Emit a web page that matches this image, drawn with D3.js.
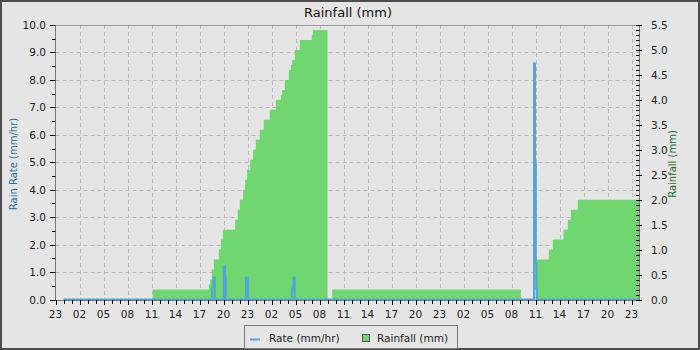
<!DOCTYPE html>
<html><head><meta charset="utf-8">
<script src="https://cdn.jsdelivr.net/npm/d3@7"></script>
<style>body{margin:0;background:#e5e5e5} svg{display:block}</style>
</head><body><svg id="c" width="700" height="350"></svg>
<script>
const chartTitle = "Rainfall (mm)";
const rateAxisLabel = "Rain Rate (mm/hr)";
const rainAxisLabel = "Rainfall (mm)";
const legendLabels = ["Rate (mm/hr)", "Rainfall (mm)"];
const domainStart = "2024-03-10T23:00";
const domainEnd = "2024-03-13T23:56";

const rainTimes = [
 "2024-03-11T00:00","2024-03-11T11:10","2024-03-11T18:10","2024-03-11T18:20","2024-03-11T18:32",
 "2024-03-11T18:47","2024-03-11T19:25","2024-03-11T19:40","2024-03-11T19:55","2024-03-11T21:27",
 "2024-03-11T21:47","2024-03-11T22:02","2024-03-11T22:27","2024-03-11T22:42","2024-03-11T22:57",
 "2024-03-11T23:20","2024-03-11T23:42","2024-03-12T00:02","2024-03-12T00:32","2024-03-12T01:02",
 "2024-03-12T01:47","2024-03-12T02:32","2024-03-12T03:10","2024-03-12T03:20","2024-03-12T03:40",
 "2024-03-12T04:10","2024-03-12T04:25","2024-03-12T04:35","2024-03-12T04:55","2024-03-12T05:32",
 "2024-03-12T07:02","2024-03-12T07:10","2024-03-12T09:00","2024-03-12T09:35","2024-03-13T09:10",
 "2024-03-13T11:00","2024-03-13T12:40","2024-03-13T13:10","2024-03-13T14:30","2024-03-13T15:02",
 "2024-03-13T15:25","2024-03-13T16:17","2024-03-13T23:56"];
const rainValues = [
 0,0.2,0.3,0.4,0.6,
 0.8,1.0,1.2,1.4,1.6,
 1.8,2.0,2.2,2.4,2.6,
 2.8,3.0,3.2,3.4,3.6,
 3.8,4.0,4.1,4.2,4.4,
 4.6,4.7,4.8,5.0,5.2,
 5.3,5.4,0,0.2,0,
 0.8,1.0,1.2,1.4,1.6,
 1.8,2.0,2.0];

const rateTimes = [
 "2024-03-11T00:00","2024-03-11T18:34","2024-03-11T18:44","2024-03-11T18:54",
 "2024-03-11T20:02","2024-03-11T20:11","2024-03-11T20:17",
 "2024-03-11T22:49","2024-03-11T23:04",
 "2024-03-12T04:34","2024-03-12T04:44","2024-03-12T04:54",
 "2024-03-13T10:49","2024-03-13T10:56","2024-03-13T11:02","2024-03-13T11:06","2024-03-13T11:11",
 "2024-03-13T23:56"];
const rateValues = [
 0,0.4,0.8,0,
 1.2,0.8,0,
 0.8,0,
 0.4,0.8,0,
 8.6,5.0,1.3,0.4,0,
 0];

const rateTicks = [0,1,2,3,4,5,6,7,8,9,10];
const rainTicks = [0,0.5,1,1.5,2,2.5,3,3.5,4,4.5,5,5.5];

const parse = d3.timeParse("%Y-%m-%dT%H:%M");
const rain = rainTimes.map((t,i)=>({t:parse(t), v:rainValues[i]}));
const rate = rateTimes.map((t,i)=>({t:parse(t), v:rateValues[i]}));

const L = 55.5, R = 639, T = 25, B = 300;
const svg = d3.select("#c");
const font = "DejaVu Sans, Verdana, sans-serif";

svg.append("rect").attr("x",1).attr("y",1).attr("width",698).attr("height",348)
  .attr("fill","#e5e5e5").attr("stroke","#4d4d4d").attr("stroke-width",2);

const x = d3.scaleTime().domain([parse(domainStart), parse(domainEnd)]).range([L, R]);
const yRate = d3.scaleLinear().domain([0,10]).range([B-0.5, T]);
const yRain = d3.scaleLinear().domain([0,5.5]).range([B-0.5, T]);

svg.append("defs").append("clipPath").attr("id","clip")
  .append("rect").attr("x",L).attr("y",T).attr("width",R-L).attr("height",B-T+1);

// ticks
const hours = x.ticks(d3.timeHour.every(1));
const majorTimes = hours.filter(d=>d.getHours()%3===2);

// grid
const g = svg.append("g");
g.selectAll("line.v").data(majorTimes.filter(d=>x(d)>L+2 && x(d)<R-2)).join("line")
  .attr("x1",d=>Math.round(x(d))+0.5).attr("x2",d=>Math.round(x(d))+0.5)
  .attr("y1",T).attr("y2",B)
  .attr("stroke","#b9b9b9").attr("stroke-dasharray","4,3");
g.selectAll("line.h").data(rateTicks.filter(d=>d>0&&d<10)).join("line")
  .attr("x1",L).attr("x2",R)
  .attr("y1",d=>Math.round(yRate(d))+0.5).attr("y2",d=>Math.round(yRate(d))+0.5)
  .attr("stroke","#b9b9b9").attr("stroke-dasharray","4,3");

// rainfall area
const area = d3.area().curve(d3.curveStepAfter)
  .x(d=>x(d.t)).y0(yRain(0)+0.5).y1(d=>yRain(d.v));
svg.append("path").datum(rain).attr("clip-path","url(#clip)")
  .attr("d",area).attr("fill","#6fd670");

// rate line
const line = d3.line().curve(d3.curveStepAfter).x(d=>x(d.t)).y(d=>yRate(d.v));
svg.append("path").datum(rate)
  .attr("d",line).attr("fill","none").attr("stroke","#4fa6dc").attr("stroke-width",2);

// frame
svg.append("line").attr("x1",L).attr("x2",R).attr("y1",T+0.5).attr("y2",T+0.5).attr("stroke","#999");

// bottom axis
const bx = svg.append("g");
bx.append("line").attr("x1",L).attr("x2",R).attr("y1",B+0.5).attr("y2",B+0.5).attr("stroke","#777");
bx.selectAll("line.t").data(hours).join("line")
  .attr("x1",d=>Math.round(x(d))+0.5).attr("x2",d=>Math.round(x(d))+0.5)
  .attr("y1",B).attr("y2",d=>B+ (d.getHours()%3===2 ? 5 : 4))
  .attr("stroke","#000");
bx.selectAll("text").data(majorTimes).join("text")
  .attr("x",d=>x(d)).attr("y",318).attr("text-anchor","middle")
  .attr("font-family",font).attr("font-size",10.5).attr("fill","#222")
  .text(d3.timeFormat("%H"));

// left axis
const ly = svg.append("g");
ly.append("line").attr("x1",L).attr("x2",L).attr("y1",T).attr("y2",B+1).attr("stroke","#777");
ly.selectAll("line.M").data(rateTicks).join("line")
  .attr("x1",50).attr("x2",L).attr("y1",d=>Math.round(yRate(d))+0.5).attr("y2",d=>Math.round(yRate(d))+0.5)
  .attr("stroke","#000");
ly.selectAll("line.m").data(d3.range(0.5,10,1)).join("line")
  .attr("x1",52).attr("x2",L).attr("y1",d=>Math.round(yRate(d))+0.5).attr("y2",d=>Math.round(yRate(d))+0.5)
  .attr("stroke","#000");
ly.selectAll("text").data(rateTicks).join("text")
  .attr("x",46).attr("y",d=>yRate(d)+4).attr("text-anchor","end")
  .attr("font-family",font).attr("font-size",10.5).attr("fill","#222")
  .text(d3.format(".1f"));
svg.append("text").attr("transform","translate(17,164) rotate(-90)")
  .attr("text-anchor","middle").attr("font-family",font).attr("font-size",10)
  .attr("fill","#1f6fa3").text(rateAxisLabel);

// right axis
const ry = svg.append("g");
ry.append("line").attr("x1",R+0.5).attr("x2",R+0.5).attr("y1",T).attr("y2",B+1).attr("stroke","#777");
ry.selectAll("line.m").data(d3.range(0,55.01,1).map(d=>d/10)).join("line")
  .attr("x1",R-3).attr("x2",R+0.5).attr("y1",d=>Math.round(yRain(d))+0.5).attr("y2",d=>Math.round(yRain(d))+0.5)
  .attr("stroke","#000");
ry.selectAll("line.M").data(rainTicks).join("line")
  .attr("x1",R-3).attr("x2",R+3).attr("y1",d=>Math.round(yRain(d))+0.5).attr("y2",d=>Math.round(yRain(d))+0.5)
  .attr("stroke","#000");
ry.selectAll("text").data(rainTicks).join("text")
  .attr("x",651).attr("y",d=>yRain(d)+4).attr("text-anchor","start")
  .attr("font-family",font).attr("font-size",10.5).attr("fill","#222")
  .text(d3.format(".1f"));
svg.append("text").attr("transform","translate(676,164) rotate(-90)")
  .attr("text-anchor","middle").attr("font-family",font).attr("font-size",10)
  .attr("fill","#1d6b1d").text(rainAxisLabel);

// title
svg.append("text").attr("x",348).attr("y",17).attr("text-anchor","middle")
  .attr("font-family",font).attr("font-size",13).attr("fill","#111").text(chartTitle);

// legend
const lg = svg.append("g");
lg.append("rect").attr("x",244.5).attr("y",325.5).attr("width",213).attr("height",23)
  .attr("fill","#e5e5e5").attr("stroke","#7a7a7a");
lg.append("line").attr("x1",250).attr("x2",260).attr("y1",339.5).attr("y2",339.5)
  .attr("stroke","#4fa6dc").attr("stroke-width",2);
lg.append("text").attr("x",269).attr("y",342).attr("font-family",font).attr("font-size",10.5)
  .attr("fill","#222").text(legendLabels[0]);
lg.append("rect").attr("x",362.5).attr("y",334.5).attr("width",7).attr("height",7)
  .attr("fill","#6fd670").attr("stroke","#555");
lg.append("text").attr("x",377).attr("y",342).attr("font-family",font).attr("font-size",10.5)
  .attr("fill","#222").text(legendLabels[1]);
</script></body></html>
